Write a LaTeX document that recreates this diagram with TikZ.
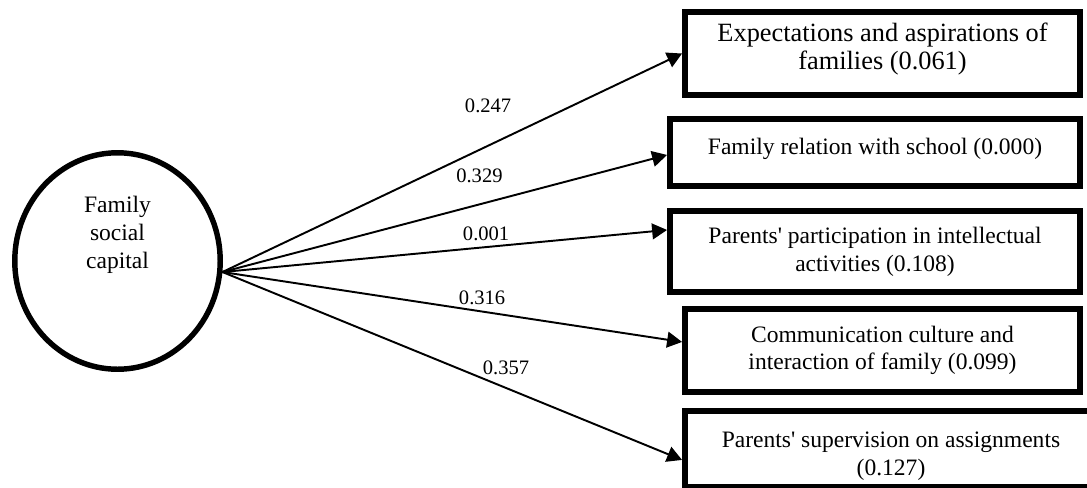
\documentclass[tikz,border=0pt]{standalone}
\usepackage{fontspec}
\setmainfont{Liberation Serif}
\usetikzlibrary{shapes.geometric,arrows.meta}

\begin{document}
\begin{tikzpicture}[
    x=0.02cm, y=-0.02cm,  % one unit per pixel, y going down
    node distance=1.98cm,
    font=\fontsize{13.4}{15.8}\selectfont,
    % Node styles:
    capital/.style={ellipse, draw, line width=3.1pt, inner sep=0pt,
                    minimum width=4.11cm, minimum height=4.33cm},
    factor/.style={rectangle, draw, line width=3.4pt, align=center, inner sep=0pt,
                   minimum width=8.2cm, minimum height=1.62cm},
    % Arrow style:
    line/.style={-{Triangle[length=8.5pt,width=9pt]}, line width=1.1pt},
    coef/.style={font=\fontsize{11.7}{14}\selectfont, inner sep=0pt},
]
\useasboundingbox (0,0) rectangle (1087,487);

% --- NODES ---
\node[capital, label={[align=center, yshift=0.52cm]center:Family\\social\\capital}]
      (fsc) at (117.5,261) {};

\node[factor, minimum width=7.9cm, minimum height=1.66cm, text depth=0.3cm,
      font=\fontsize{15}{16.2}\selectfont] (expect) at (882.5,53.5)
      {Expectations and aspirations of\\families (0.061)};
\node[factor, minimum height=1.34cm, text depth=0.25cm,
      below of=expect, xshift=-0.15cm] (school)
      {Family relation with school (0.000)};
\node[factor, below of=school] (partic)
      {Parents\textquotesingle{} participation in intellectual\\activities (0.108)};
\node[factor, minimum width=7.9cm, minimum height=1.66cm,
      below of=partic, xshift=0.15cm] (commun)
      {Communication culture and\\interaction of family (0.099)};
\node[factor, minimum width=8.24cm, minimum height=1.52cm, text height=1.15cm,
      below of=commun, xshift=0.17cm] (superv)
      {Parents\textquotesingle{} supervision on assignments\\(0.127)};

% --- ARROWS ---
\draw[line] (fsc.-6) -- node[coef, pos=0.578, yshift=0.8cm] {0.247} (expect.west);
\draw[line] (fsc.-6) -- node[coef, pos=0.578, yshift=0.58cm] {0.329} ([yshift=-0.05cm]school.west);
\draw[line] (fsc.-6) -- node[coef, pos=0.593, yshift=0.26cm] {0.001} ([yshift=0.43cm]partic.west);
\draw[line] (fsc.-6) -- node[coef, pos=0.565, yshift=0.27cm] {0.316} ([yshift=0.17cm]commun.west);
\draw[line] (fsc.-6) -- node[coef, pos=0.617, yshift=0.4cm] {0.357} ([yshift=-0.21cm]superv.west);

\end{tikzpicture}
\end{document}
